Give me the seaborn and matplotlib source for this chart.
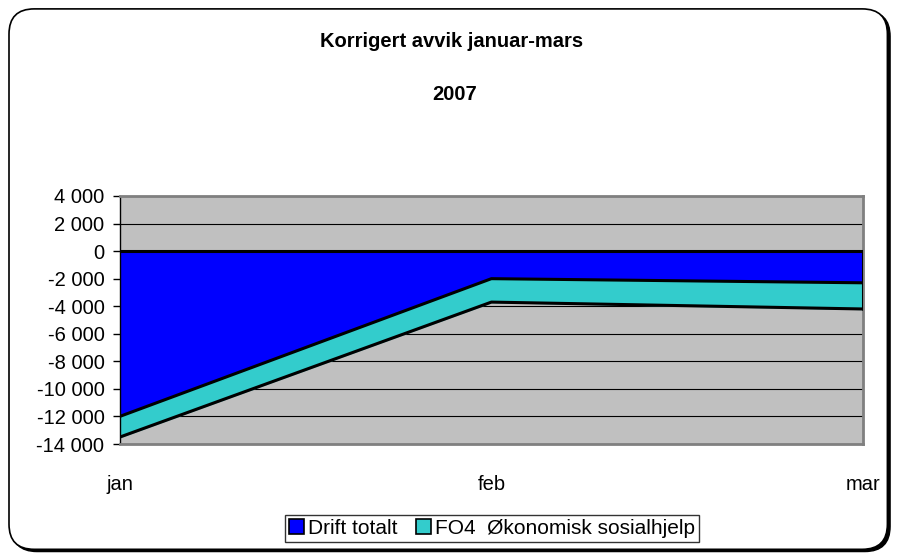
import matplotlib.pyplot as plt
import numpy as np
import pandas as pd
import seaborn as sns
from matplotlib.patches import FancyBboxPatch, Patch
from matplotlib.ticker import FuncFormatter, MultipleLocator

# --- Data ---
months = ["jan", "feb", "mar"]
drift_totalt = [-12000, -2000, -2300]
fo4_sosialhjelp = [-1500, -1700, -1900]

df = pd.DataFrame({"month": months, "Drift totalt": drift_totalt,
                   "FO4  Økonomisk sosialhjelp": fo4_sosialhjelp})
x = np.arange(len(months))
lower = df["Drift totalt"] + df["FO4  Økonomisk sosialhjelp"]

sns.set_theme(style="white")
plt.rcParams["font.family"] = ["Liberation Sans", "DejaVu Sans"]
plt.rcParams["text.color"] = "black"

fig = plt.figure(figsize=(9, 5.56), dpi=100)

# chart border with a small shadow (Excel style)
aspect = 9 / 5.56
shadow = FancyBboxPatch((0.013, 0.008), 0.976, 0.972,
                        boxstyle="round,pad=0,rounding_size=0.028",
                        mutation_aspect=aspect, transform=fig.transFigure,
                        facecolor="black", edgecolor="black", lw=1, zorder=0)
border = FancyBboxPatch((0.010, 0.012), 0.976, 0.972,
                        boxstyle="round,pad=0,rounding_size=0.028",
                        mutation_aspect=aspect, transform=fig.transFigure,
                        facecolor="white", edgecolor="black", lw=1.2, zorder=0)
fig.patches.extend([shadow, border])

ax = fig.add_axes([0.133, 0.2014, 0.826, 0.4461])
ax.set_zorder(2)
ax.set_facecolor("#C0C0C0")

# stacked areas
ax.fill_between(x, 0, df["Drift totalt"], color="#0000FF", zorder=2)
ax.fill_between(x, df["Drift totalt"], lower, color="#33CCCC", zorder=2)
sns.lineplot(x=x, y=df["Drift totalt"], color="black", lw=2.2, ax=ax, zorder=3)
sns.lineplot(x=x, y=lower, color="black", lw=2.2, ax=ax, zorder=3)
ax.plot([x[-1], x[-1]], [0, lower.iloc[-1]], color="black", lw=2.2, zorder=3)

ax.set_xlim(0, 2)
ax.set_ylim(-14000, 4000)
ax.yaxis.set_major_locator(MultipleLocator(2000))
ax.yaxis.set_major_formatter(FuncFormatter(lambda v, _: f"{int(v):,}".replace(",", " ")))
ax.grid(axis="y", color="black", lw=0.8, zorder=1)
ax.set_axisbelow(True)
ax.axhline(0, color="black", lw=2.2, zorder=4)

ax.set_xticks(x)
ax.set_xticklabels(months)
ax.tick_params(axis="x", length=0, pad=22, labelsize=14.5, colors="black")
ax.tick_params(axis="y", length=5, width=1, labelsize=14.5, colors="black", left=True, pad=6)
for s in ["top", "right", "bottom"]:
    ax.spines[s].set_color("#808080")
    ax.spines[s].set_linewidth(2)
ax.spines["left"].set_color("black")
ax.spines["left"].set_linewidth(1)
ax.set_xlabel("")
ax.set_ylabel("")

fig.text(0.502, 0.926, "Korrigert avvik januar-mars", ha="center", va="center",
         fontsize=14.5, fontweight="bold", color="black")
fig.text(0.505, 0.830, "2007", ha="center", va="center", fontsize=14.5,
         fontweight="bold", color="black")

handles = [Patch(facecolor="#0000FF", edgecolor="black", lw=1.2, label="Drift totalt"),
           Patch(facecolor="#33CCCC", edgecolor="black", lw=1.2, label="FO4  Økonomisk sosialhjelp")]
leg = fig.legend(handles=handles, loc="center", bbox_to_anchor=(0.547, 0.05), ncol=2,
                 fontsize=15, frameon=True, fancybox=False, handlelength=0.7,
                 handleheight=0.7, handletextpad=0.2, columnspacing=0.9,
                 borderpad=0.2, borderaxespad=0)
leg.get_frame().set_edgecolor("black")
leg.get_frame().set_linewidth(1)
for t in leg.get_texts():
    t.set_color("black")

fig.savefig("out.png", dpi=100)
